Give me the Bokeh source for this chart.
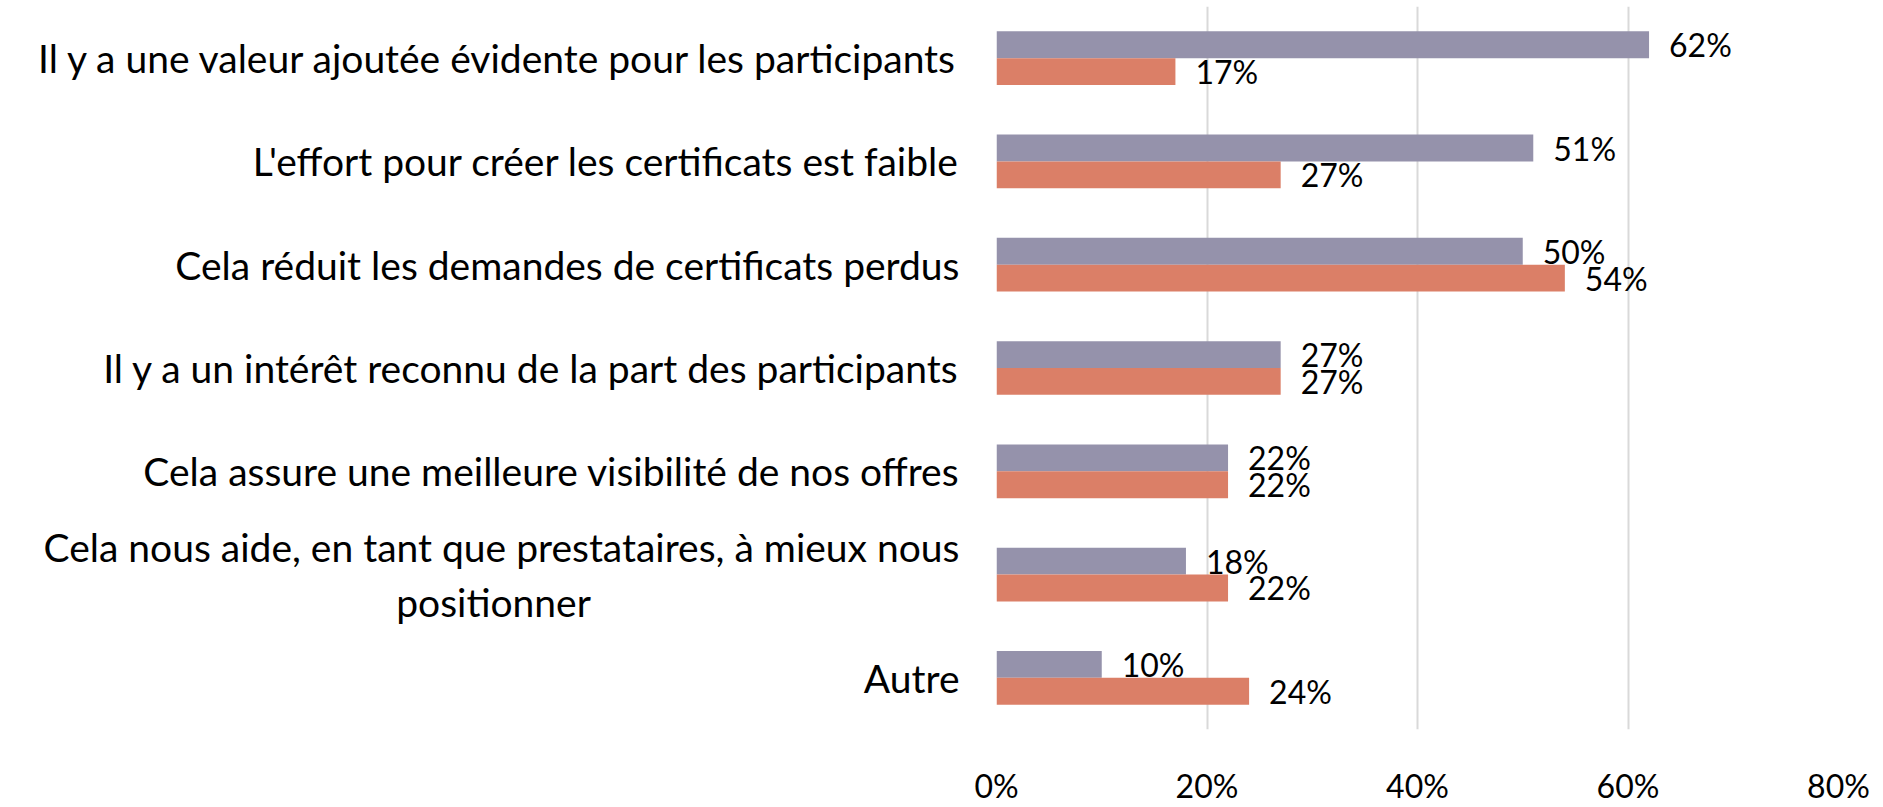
from bokeh.plotting import figure
from bokeh.models import ColumnDataSource, Range1d, FactorRange, NumeralTickFormatter, FixedTicker
from bokeh.transform import dodge
from bokeh.core.properties import value
from bokeh.embed import file_html
from bokeh.resources import INLINE

NBSP = "\u00a0"
categories = [
    "Il y a une valeur ajoutée évidente pour les participants",
    "L'effort pour créer les certificats est faible",
    "Cela réduit les demandes de certificats perdus",
    "Il y a un intérêt reconnu de la part des participants",
    "Cela assure une meilleure visibilité de nos offres",
    "Cela nous aide, en tant que prestataires, à mieux nous\npositionner" + NBSP * 37,
    "Autre",
]
series_a = [0.62, 0.51, 0.50, 0.27, 0.22, 0.18, 0.10]
series_b = [0.17, 0.27, 0.54, 0.27, 0.22, 0.22, 0.24]
x_ticks = [0, 0.2, 0.4, 0.6, 0.8]

COL_A = "#9592AB"
COL_B = "#DB7F67"
FONT = "Lato"

src = ColumnDataSource(dict(
    cat=categories,
    a=series_a,
    b=series_b,
    a_lbl=[f"{round(v*100)}%" for v in series_a],
    b_lbl=[f"{round(v*100)}%" for v in series_b],
))

p = figure(
    width=1883, height=807,
    y_range=FactorRange(factors=list(reversed(categories)), range_padding=0),
    x_range=Range1d(0, 0.8),
    output_backend="svg", toolbar_location=None,
    min_border_left=996, min_border_right=45, min_border_top=6, min_border_bottom=68,
)
p.outline_line_color = None
p.background_fill_color = "white"
p.border_fill_color = "white"

bh = 0.26
p.hbar(y=dodge("cat", bh / 2, range=p.y_range), right="a", left=0, height=bh,
       source=src, fill_color=COL_A, line_color=None)
p.hbar(y=dodge("cat", -bh / 2, range=p.y_range), right="b", left=0, height=bh,
       source=src, fill_color=COL_B, line_color=None)

p.text(x="a", y=dodge("cat", bh / 2, range=p.y_range), text="a_lbl", source=src,
       x_offset=20, text_align="left", text_baseline="middle",
       text_font=value(FONT), text_font_size="32px", text_color="black")
p.text(x="b", y=dodge("cat", -bh / 2, range=p.y_range), text="b_lbl", source=src,
       x_offset=20, text_align="left", text_baseline="middle",
       text_font=value(FONT), text_font_size="32px", text_color="black")

p.xgrid.ticker = FixedTicker(ticks=x_ticks)
p.xgrid.grid_line_color = "#D9D9D9"
p.xgrid.grid_line_width = 2
p.ygrid.grid_line_color = None

xa = p.xaxis[0]
xa.ticker = FixedTicker(ticks=x_ticks)
xa.formatter = NumeralTickFormatter(format="0%")
xa.axis_line_color = None
xa.major_tick_line_color = None
xa.minor_tick_line_color = None
xa.major_label_standoff = 30
xa.major_label_text_font = FONT
xa.major_label_text_font_size = "32px"
xa.major_label_text_color = "black"

ya = p.yaxis[0]
ya.axis_line_color = None
ya.major_tick_line_color = None
ya.minor_tick_line_color = None
ya.major_label_standoff = 31
ya.major_label_text_font = FONT
ya.major_label_text_font_size = "39px"
ya.major_label_text_color = "black"

open("out.html", "w").write(file_html(p, INLINE))
